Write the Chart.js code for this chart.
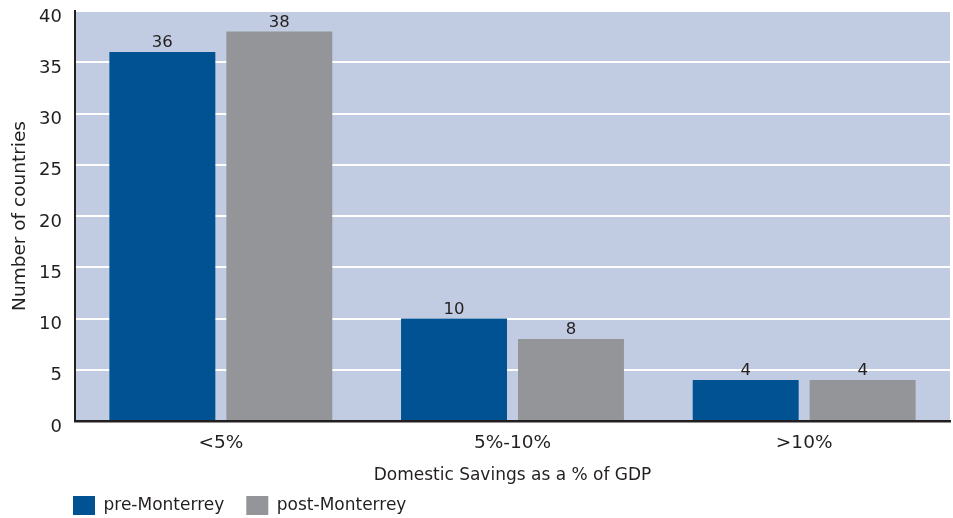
<!DOCTYPE html>
<html>
<head>
<meta charset="utf-8">
<title>Domestic Savings</title>
<script src="https://cdn.jsdelivr.net/npm/chart.js"></script>
<style>
    html, body { margin: 0; padding: 0; background: #fff; }
    #wrap { width: 953px; height: 518px; position: relative; }
</style>
</head>
<body>
<div id="wrap"><canvas id="savingsChart"></canvas></div>
<script>
// Kategorien und Werte
const categories = ['<5%', '5%-10%', '>10%'];
const preMonterrey = [36, 10, 4];
const postMonterrey = [38, 8, 4];
const yMax = 40;
const yStep = 5;

const FONT = "'DejaVu Sans', sans-serif";
const TEXT = '#231f20';

// Hintergrund der Zeichenfläche
const areaBackground = {
    id: 'areaBackground',
    beforeDraw(chart) {
        const { ctx, chartArea: a } = chart;
        ctx.save();
        ctx.fillStyle = '#c1cce3';
        ctx.fillRect(a.left, a.top, a.right - a.left, a.bottom - a.top);
        ctx.restore();
    }
};

// Werte über den Balken
const valueLabels = {
    id: 'valueLabels',
    afterDatasetsDraw(chart) {
        const ctx = chart.ctx;
        ctx.save();
        ctx.font = '16.5px ' + FONT;
        ctx.fillStyle = TEXT;
        ctx.textAlign = 'center';
        ctx.textBaseline = 'alphabetic';
        chart.data.datasets.forEach((ds, i) => {
            chart.getDatasetMeta(i).data.forEach((bar, j) => {
                ctx.fillText(ds.data[j], bar.x, bar.y - 5);
            });
        });
        ctx.restore();
    }
};

// Legende unten links ausrichten
const legendPlace = {
    id: 'legendPlace',
    afterLayout(chart) {
        const lg = chart.legend;
        const pad = lg.options.labels.padding;
        lg.left = 73 - pad;
        lg.top = 496 - pad;
        lg.bottom = 518;
    }
};

new Chart(document.getElementById('savingsChart'), {
    type: 'bar',
    data: {
        labels: categories,
        datasets: [{
            label: 'pre-Monterrey',
            data: preMonterrey,
            backgroundColor: '#005293'
        }, {
            label: 'post-Monterrey',
            data: postMonterrey,
            backgroundColor: '#939598'
        }]
    },
    options: {
        responsive: true,
        maintainAspectRatio: false,
        animation: false,
        layout: { padding: { right: 3 } },
        datasets: {
            bar: { categoryPercentage: 0.802, barPercentage: 0.906 }
        },
        plugins: {
            legend: {
                position: 'bottom',
                align: 'start',
                maxHeight: 30,
                labels: {
                    boxWidth: 22,
                    boxHeight: 19,
                    padding: 22,
                    color: TEXT,
                    font: { family: FONT, size: 17 }
                }
            },
            tooltip: { enabled: false }
        },
        scales: {
            x: {
                afterFit(scale) { scale.height = 67; },
                grid: { display: false },
                border: { color: TEXT, width: 2.5 },
                ticks: {
                    color: TEXT,
                    padding: 3,
                    font: { family: FONT, size: 18.5 }
                },
                title: {
                    display: true,
                    text: 'Domestic Savings as a % of GDP',
                    color: TEXT,
                    padding: { top: 4, bottom: 2 },
                    font: { family: FONT, size: 17 }
                }
            },
            y: {
                min: 0,
                max: yMax,
                afterFit(scale) {
                    scale.width = 75;
                    // nur halbe Schrifthöhe oben freilassen
                    scale.paddingTop = 11;
                    scale.paddingBottom = 11;
                },
                grid: {
                    color: (c) => c.tick && c.tick.value === 0 ? 'rgba(0,0,0,0)' : '#ffffff',
                    lineWidth: 2,
                    drawTicks: false
                },
                border: { color: TEXT, width: 2 },
                ticks: {
                    stepSize: yStep,
                    color: TEXT,
                    padding: 13,
                    labelOffset: 6,
                    font: { family: FONT, size: 18 }
                },
                title: {
                    display: true,
                    text: 'Number of countries',
                    color: TEXT,
                    padding: { top: 9.5, bottom: 0 },
                    font: { family: FONT, size: 18.5 }
                }
            }
        }
    },
    plugins: [areaBackground, valueLabels, legendPlace]
});
</script>
</body>
</html>
